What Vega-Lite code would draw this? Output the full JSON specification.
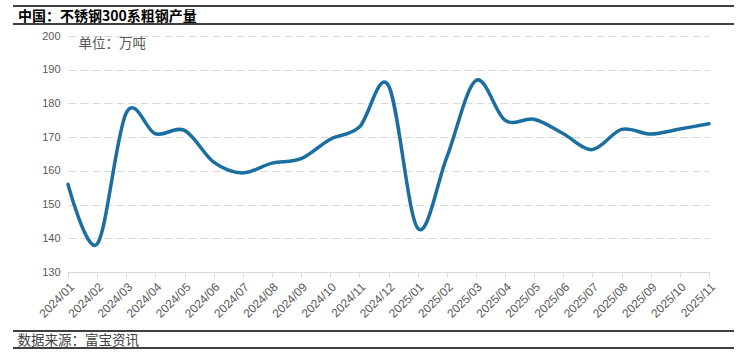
{
  "$schema": "https://vega.github.io/schema/vega-lite/v6.json",
  "autosize": "none",
  "width": 641,
  "height": 236,
  "padding": {"left": 68, "top": 36, "right": 32, "bottom": 85},
  "background": "white",
  "config": {
    "view": {"stroke": null},
    "font": "Liberation Sans"
  },
  "title": {
    "text": "中国：不锈钢300系粗钢产量",
    "anchor": "start",
    "frame": "group",
    "font": "Noto Sans CJK SC",
    "fontSize": 14,
    "fontWeight": "bold",
    "color": "#000000",
    "dx": -50,
    "dy": 25,
    "offset": 6
  },
  "data": {
    "values": [
      {"month": "2024/01", "value": 156},
      {"month": "2024/02", "value": 138.3},
      {"month": "2024/03", "value": 177.2},
      {"month": "2024/04", "value": 171},
      {"month": "2024/05", "value": 172},
      {"month": "2024/06", "value": 162.6},
      {"month": "2024/07", "value": 159.4},
      {"month": "2024/08", "value": 162.3},
      {"month": "2024/09", "value": 163.6},
      {"month": "2024/10", "value": 169.4},
      {"month": "2024/11", "value": 173},
      {"month": "2024/12", "value": 185.3},
      {"month": "2025/01", "value": 143},
      {"month": "2025/02", "value": 164},
      {"month": "2025/03", "value": 186.8},
      {"month": "2025/04", "value": 175},
      {"month": "2025/05", "value": 175.3},
      {"month": "2025/06", "value": 171},
      {"month": "2025/07", "value": 166.3},
      {"month": "2025/08", "value": 172.3},
      {"month": "2025/09", "value": 170.9},
      {"month": "2025/10", "value": 172.4},
      {"month": "2025/11", "value": 174}
    ]
  },
  "layer": [
    {
      "mark": {"type": "line", "interpolate": "cardinal", "color": "#1b6fa0", "strokeWidth": 3.5, "strokeCap": "round"},
      "encoding": {
        "x": {
          "field": "month",
          "type": "ordinal",
          "sort": null,
          "scale": {"type": "point", "padding": 0},
          "axis": {
            "title": "数据来源：富宝资讯",
            "titleFont": "Noto Sans CJK SC",
            "titleFontSize": 13.5,
            "titleFontWeight": "normal",
            "titleColor": "#404040",
            "titleX": -51,
            "titleY": 68,
            "titleAlign": "left",
            "titleBaseline": "middle",
            "labelAngle": -45,
            "labelFontSize": 12,
            "labelColor": "#595959",
            "labelPadding": 4,
            "domainColor": "#d9d9d9",
            "tickColor": "#d9d9d9",
            "tickSize": 5,
            "grid": false
          }
        },
        "y": {
          "field": "value",
          "type": "quantitative",
          "scale": {"domain": [130, 200], "nice": false, "zero": false},
          "axis": {
            "values": [130, 140, 150, 160, 170, 180, 190, 200],
            "title": "单位：万吨",
            "titleFont": "Noto Sans CJK SC",
            "titleFontSize": 13.5,
            "titleFontWeight": "normal",
            "titleColor": "#595959",
            "titleAngle": 0,
            "titleX": 10,
            "titleY": 7,
            "titleAlign": "left",
            "titleBaseline": "middle",
            "labelFontSize": 11,
            "labelColor": "#595959",
            "labelPadding": 8,
            "domain": false,
            "ticks": false,
            "grid": true,
            "gridColor": "#d9d9d9",
            "gridDash": [8, 4],
            "gridWidth": 1
          }
        }
      }
    },
    {
      "data": {"values": [{"part": "frame"}]},
      "mark": {"type": "rule", "color": "#000000", "strokeWidth": 1.5, "clip": false},
      "encoding": {"x": {"value": -55}, "x2": {"value": 666}, "y": {"value": -30}}
    },
    {
      "data": {"values": [{"part": "frame"}]},
      "mark": {"type": "rule", "color": "#000000", "strokeWidth": 1.5, "clip": false},
      "encoding": {"x": {"value": -55}, "x2": {"value": 666}, "y": {"value": -12}}
    },
    {
      "data": {"values": [{"part": "frame"}]},
      "mark": {"type": "rule", "color": "#000000", "strokeWidth": 1.5, "clip": false},
      "encoding": {"x": {"value": -55}, "x2": {"value": 666}, "y": {"value": 295}}
    },
    {
      "data": {"values": [{"part": "frame"}]},
      "mark": {"type": "rule", "color": "#000000", "strokeWidth": 1.5, "clip": false},
      "encoding": {"x": {"value": -55}, "x2": {"value": 666}, "y": {"value": 312}}
    }
  ]
}
